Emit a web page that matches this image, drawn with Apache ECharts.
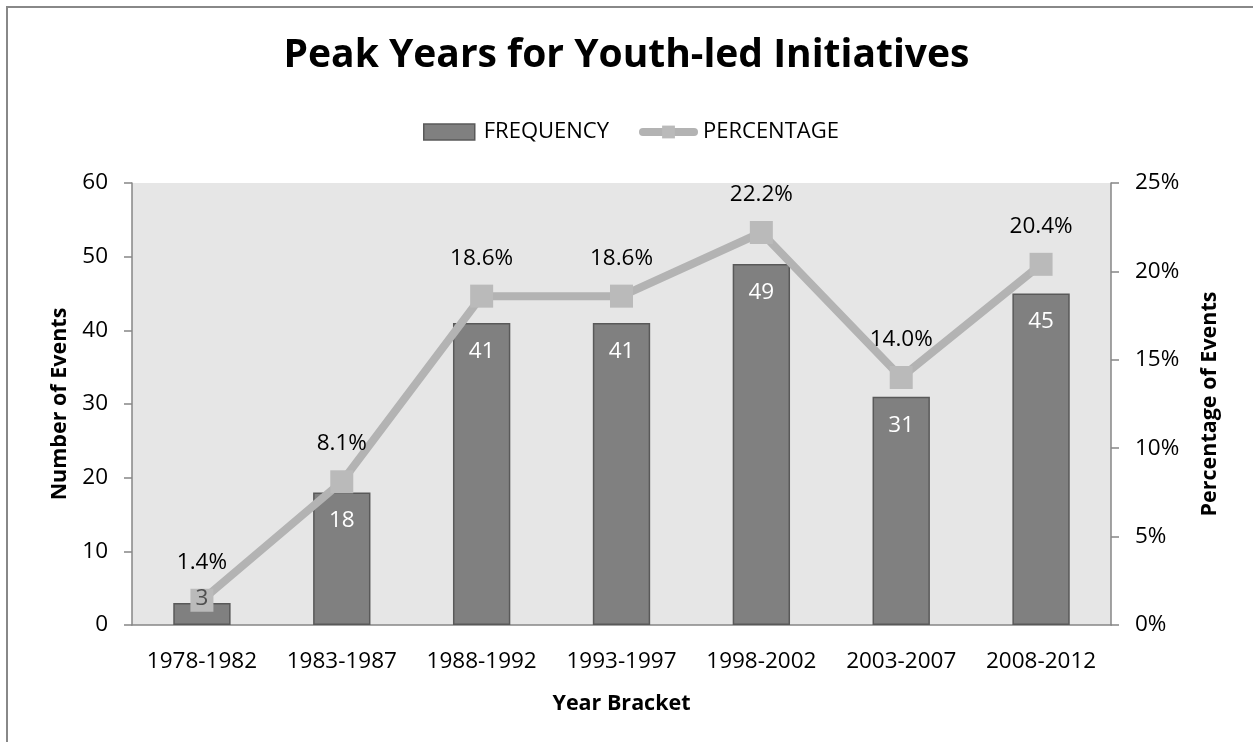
<!DOCTYPE html>
<html>
<head>
<meta charset="utf-8">
<title>Peak Years for Youth-led Initiatives</title>
<script src="https://cdn.jsdelivr.net/npm/echarts@6/dist/echarts.min.js"></script>
<style>
  html, body { margin: 0; padding: 0; background: #ffffff; overflow: hidden; }
  #wrap { position: relative; width: 1253px; height: 742px; }
  #chart { position: absolute; left: 0; top: 0; width: 1253px; height: 742px; }
  #frame { position: absolute; left: 6px; top: 6px; width: 1300px; height: 800px;
           border-left: 2px solid #888888; border-top: 2px solid #888888; pointer-events: none; }
</style>
</head>
<body>
<div id="wrap">
  <div id="chart"></div>
  <div id="frame"></div>
</div>
<script>
// Year brackets and counts of youth-led initiatives
const categories = ['1978-1982', '1983-1987', '1988-1992', '1993-1997', '1998-2002', '2003-2007', '2008-2012'];
const frequency = [3, 18, 41, 41, 49, 31, 45];
const percentage = [1.4, 8.1, 18.6, 18.6, 22.2, 14.0, 20.4];
const countTicks = { min: 0, max: 60, interval: 10 };
const percentTicks = { min: 0, max: 25, interval: 5 };

const FONT = '"Open Sans", "Noto Sans", sans-serif';
const AXIS_GREY = '#868686';
const SHORT_BAR = 5;

const chart = echarts.init(document.getElementById('chart'), null, { renderer: 'canvas' });

// Bars tall enough carry their count inside in white
const barData = frequency.map(v => v < SHORT_BAR ? { value: v, label: { show: false } } : v);
// Short bars get their count drawn on an overlay above the percentage markers
const shortBarLabels = frequency.map((v, i) => v < SHORT_BAR ? [categories[i], v] : null).filter(Boolean);

chart.setOption({
  animation: false,
  backgroundColor: '#ffffff',
  textStyle: { fontFamily: FONT },
  title: {
    text: 'Peak Years for Youth-led Initiatives',
    left: 'center',
    top: 31,
    textStyle: { fontFamily: FONT, fontSize: 39, fontWeight: 'bold', color: '#000000' }
  },
  legend: {
    top: 116,
    left: 418,
    itemWidth: 51,
    itemHeight: 16,
    itemGap: 30,
    textStyle: { fontFamily: FONT, fontSize: 22, color: '#000000', padding: [0, 0, 0, 4] },
    data: [
      { name: 'FREQUENCY', icon: 'rect', itemStyle: { color: '#808080', borderColor: '#595959', borderWidth: 1.5 } },
      { name: 'PERCENTAGE', lineStyle: { width: 8, color: '#b3b3b3', cap: 'round' } }
    ]
  },
  grid: {
    left: 132, right: 142, top: 183, bottom: 117,
    show: true, backgroundColor: '#e6e6e6', borderWidth: 0
  },
  xAxis: {
    type: 'category',
    data: categories,
    name: 'Year Bracket',
    nameLocation: 'middle',
    nameGap: 68,
    nameTextStyle: { fontFamily: FONT, fontSize: 21.5, fontWeight: 'bold', color: '#000000' },
    axisLine: { show: true, lineStyle: { color: AXIS_GREY, width: 1.5 } },
    axisTick: { show: false },
    axisLabel: { fontFamily: FONT, fontSize: 22.5, color: '#000000', margin: 25, interval: 0 },
    splitLine: { show: false }
  },
  yAxis: [
    {
      type: 'value',
      min: countTicks.min, max: countTicks.max, interval: countTicks.interval,
      name: 'Number of Events',
      nameLocation: 'middle',
      nameRotate: 90,
      nameGap: 58,
      nameTextStyle: { fontFamily: FONT, fontSize: 21.5, fontWeight: 'bold', color: '#000000' },
      axisLine: { show: true, lineStyle: { color: AXIS_GREY, width: 1.5 } },
      axisTick: { show: true, length: 8, lineStyle: { color: AXIS_GREY, width: 1.5 } },
      axisLabel: { fontFamily: FONT, fontSize: 22.5, color: '#000000', margin: 24 },
      splitLine: { show: false }
    },
    {
      type: 'value',
      min: percentTicks.min, max: percentTicks.max, interval: percentTicks.interval,
      name: 'Percentage of Events',
      nameLocation: 'middle',
      nameRotate: 90,
      nameGap: 88,
      nameTextStyle: { fontFamily: FONT, fontSize: 21.5, fontWeight: 'bold', color: '#000000' },
      axisLine: { show: true, lineStyle: { color: AXIS_GREY, width: 1.5 } },
      axisTick: { show: true, length: 8, lineStyle: { color: AXIS_GREY, width: 1.5 } },
      axisLabel: { fontFamily: FONT, fontSize: 22.5, color: '#000000', margin: 24, formatter: '{value}%' },
      splitLine: { show: false }
    }
  ],
  series: [
    {
      name: 'FREQUENCY',
      type: 'bar',
      yAxisIndex: 0,
      data: barData,
      barWidth: '41%',
      itemStyle: { color: '#808080', borderColor: '#595959', borderWidth: 1.5 },
      label: {
        show: true,
        position: 'insideTop',
        distance: 17,
        fontFamily: FONT,
        fontSize: 22.5,
        color: '#ffffff'
      },
      z: 2
    },
    {
      name: 'PERCENTAGE',
      type: 'line',
      yAxisIndex: 1,
      data: percentage,
      symbol: 'rect',
      symbolSize: 23,
      lineStyle: { color: '#b3b3b3', width: 8, join: 'round', cap: 'round' },
      itemStyle: { color: '#bababa', borderWidth: 0 },
      label: {
        show: true,
        position: 'top',
        distance: 15,
        fontFamily: FONT,
        fontSize: 22.5,
        color: '#000000',
        formatter: p => p.value.toFixed(1) + '%'
      },
      z: 3
    },
    {
      name: 'FREQUENCY (short bars)',
      type: 'scatter',
      yAxisIndex: 0,
      data: shortBarLabels,
      symbolSize: 0,
      silent: true,
      label: {
        show: true,
        position: 'top',
        distance: -7,
        fontFamily: FONT,
        fontSize: 22.5,
        color: '#333333',
        formatter: p => String(p.value[1])
      },
      z: 5
    }
  ]
});
</script>
</body>
</html>
